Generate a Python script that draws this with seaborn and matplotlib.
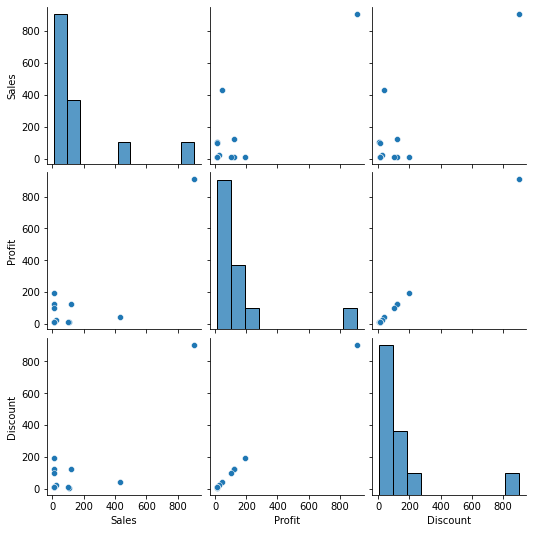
import matplotlib
matplotlib.use("Agg")
import pandas as pd
import seaborn as sns

sales = [905, 432, 120, 105, 100, 24, 12, 12, 12, 12, 12, 12]
profit = [908, 43, 122, 10, 10, 23, 10, 12, 123, 102, 192, 11]
discount = [903, 40, 123, 7, 14, 22, 12, 14, 122, 102, 196, 10]
bin_counts = {"Sales": 11, "Profit": 10, "Discount": 10}

df = pd.DataFrame({"Sales": sales, "Profit": profit, "Discount": discount})


def diag_hist(x, **kwargs):
    sns.histplot(x=x, bins=bin_counts[x.name], **kwargs)


g = sns.PairGrid(df)
g.map_diag(diag_hist)
g.map_offdiag(sns.scatterplot)
g.tight_layout()
g.figure.savefig("out.png", dpi=72, bbox_inches="tight")
